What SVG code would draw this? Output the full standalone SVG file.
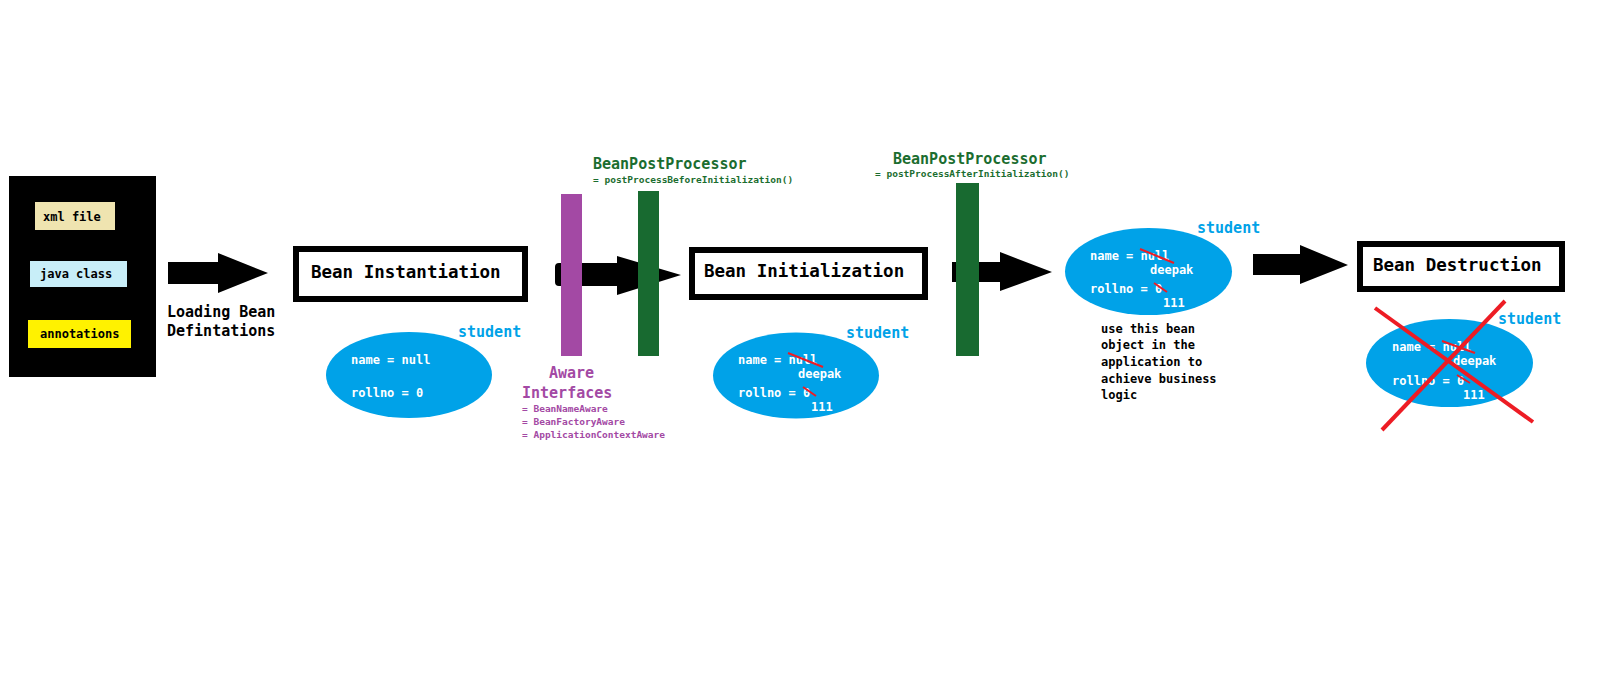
<svg xmlns="http://www.w3.org/2000/svg" width="1600" height="673" viewBox="0 0 1600 673">
<style>
text{font-family:"DejaVu Sans Mono","Liberation Mono",monospace;font-weight:bold}
.box{fill:#fff;stroke:#000;stroke-width:6}
.bt{font-size:17.5px;fill:#000}
.src{font-size:12px;fill:#000}
.ell{fill:#00A2E8}
.et{font-size:12px;fill:#fff}
.stu{font-size:15px;fill:#00A2E8}
.strike{stroke:#ED1C24;stroke-width:2;fill:none}
.arrow{fill:#000}
.green{fill:#186A30}
.gt{fill:#1B6D2F}
.purple{fill:#A349A4}
.note{font-size:12px;fill:#000}
</style>
<rect width="1600" height="673" fill="#fff"/>
<g id="connectors">
<polygon class="arrow" points="168,262 218,262 218,253 268,273 218,293 218,284 168,284"/>
<path class="arrow" d="M559,263 L617,263 L617,256 L681,275 L617,295 L617,286 L559,286 Q555,286 555,282 L555,267 Q555,263 559,263 Z"/>
<polygon class="arrow" points="952,262 1000,262 1000,252 1052,272 1000,291 1000,282 952,282"/>
<polygon class="arrow" points="1253,254 1300,254 1300,245 1348,265 1300,284 1300,275 1253,275"/>
</g>
<g id="sources">
<rect x="9" y="176" width="147" height="201" fill="#000"/>
<rect x="35" y="202" width="80" height="28" fill="#EFE4B0"/>
<text class="src" x="43" y="221">xml file</text>
<rect x="30" y="261" width="97" height="26" fill="#C8EEF8"/>
<text class="src" x="40" y="278">java class</text>
<rect x="28" y="320" width="103" height="28" fill="#FFF200"/>
<text class="src" x="40" y="338">annotations</text>
</g>
<g id="loading-label">
<text x="167" y="317" font-size="15px">Loading Bean</text>
<text x="167" y="336" font-size="15px">Defintations</text>
</g>
<g id="bean-instantiation">
<rect class="box" x="296" y="249" width="229" height="50"/>
<text class="bt" x="311" y="278">Bean Instantiation</text>
</g>
<g id="student-1">
<ellipse class="ell" cx="409" cy="375" rx="83" ry="43"/>
<text class="stu" x="458" y="337">student</text>
<text class="et" x="351" y="364">name = null</text>
<text class="et" x="351" y="397">rollno = 0</text>
</g>
<g id="aware-interfaces">
<rect class="purple" x="561" y="194" width="21" height="162"/>
<text x="549" y="378" font-size="15px" fill="#A349A4">Aware</text>
<text x="522" y="398" font-size="15px" fill="#A349A4">Interfaces</text>
<text x="522" y="412" font-size="9.5px" fill="#A349A4">= BeanNameAware</text>
<text x="522" y="425" font-size="9.5px" fill="#A349A4">= BeanFactoryAware</text>
<text x="522" y="438" font-size="9.5px" fill="#A349A4">= ApplicationContextAware</text>
</g>
<g id="bpp-before">
<rect class="green" x="638" y="191" width="21" height="165"/>
<text class="gt" x="593" y="169" font-size="15px">BeanPostProcessor</text>
<text class="gt" x="593" y="183" font-size="9.5px">= postProcessBeforeInitialization()</text>
</g>
<g id="bean-initialization">
<rect class="box" x="692" y="250" width="233" height="47"/>
<text class="bt" x="704" y="277">Bean Initialization</text>
</g>
<g id="student-2">
<ellipse class="ell" cx="796" cy="375.5" rx="83" ry="43"/>
<text class="stu" x="846" y="338">student</text>
<text class="et" x="738" y="364">name = null</text>
<text class="et" x="798" y="378">deepak</text>
<text class="et" x="738" y="397">rollno = 0</text>
<text class="et" x="811" y="411">111</text>
<line class="strike" x1="788" y1="353" x2="823" y2="367"/>
<line class="strike" x1="803" y1="387" x2="816" y2="396"/>
</g>
<g id="bpp-after">
<rect class="green" x="956" y="183" width="23" height="173"/>
<text class="gt" x="893" y="164" font-size="15px">BeanPostProcessor</text>
<text class="gt" x="875" y="177" font-size="9.5px">= postProcessAfterInitialization()</text>
</g>
<g id="student-3">
<ellipse class="ell" cx="1148.5" cy="271.5" rx="83.5" ry="43.5"/>
<text class="stu" x="1197" y="233">student</text>
<text class="et" x="1090" y="260">name = null</text>
<text class="et" x="1150" y="274">deepak</text>
<text class="et" x="1090" y="293">rollno = 0</text>
<text class="et" x="1163" y="307">111</text>
<line class="strike" x1="1140" y1="249" x2="1174" y2="263"/>
<line class="strike" x1="1154" y1="283" x2="1167" y2="292"/>
</g>
<g id="usage-note">
<text class="note" x="1101" y="333">use this bean</text>
<text class="note" x="1101" y="349">object in the</text>
<text class="note" x="1101" y="366">application to</text>
<text class="note" x="1101" y="383">achieve business</text>
<text class="note" x="1101" y="399">logic</text>
</g>
<g id="bean-destruction">
<rect class="box" x="1360" y="244" width="202" height="45"/>
<text class="bt" x="1373" y="271">Bean Destruction</text>
</g>
<g id="student-4">
<ellipse class="ell" cx="1449.5" cy="363" rx="83.5" ry="44"/>
<text class="stu" x="1498" y="324">student</text>
<text class="et" x="1392" y="351">name = null</text>
<text class="et" x="1453" y="365">deepak</text>
<text class="et" x="1392" y="385">rollno = 0</text>
<text class="et" x="1463" y="399">111</text>
<line class="strike" x1="1442" y1="341" x2="1475" y2="353"/>
<line class="strike" x1="1457" y1="375" x2="1470" y2="383"/>
<line x1="1375" y1="308" x2="1533" y2="422" stroke="#ED1C24" stroke-width="4"/>
<line x1="1505" y1="301" x2="1382" y2="430" stroke="#ED1C24" stroke-width="4"/>
</g>
</svg>
